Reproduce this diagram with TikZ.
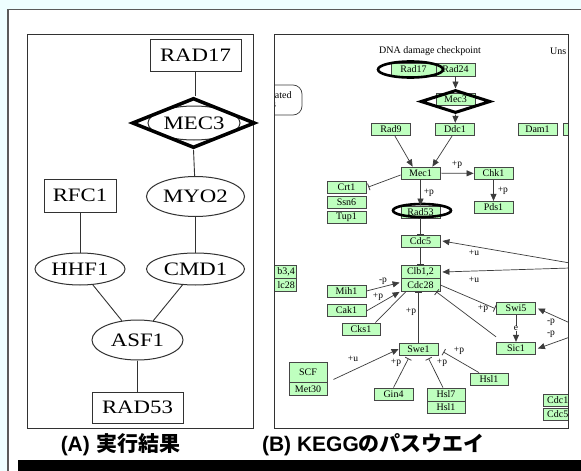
\documentclass[tikz,border=0pt]{standalone}
\usepackage{fontspec}
\usetikzlibrary{shapes.geometric,arrows.meta}
\newfontfamily\gfont[FakeStretch=1.2]{Liberation Serif}
\newfontfamily\kfont{Liberation Serif}
\newfontfamily\capfont{Liberation Sans}
\newfontfamily\jpfont{Noto Sans CJK JP}
\definecolor{bgcyan}{RGB}{238,254,255}
\definecolor{framegray}{RGB}{90,90,90}
\definecolor{agray}{RGB}{50,50,50}
\definecolor{kgreen}{RGB}{191,255,191}
\definecolor{kborder}{RGB}{70,70,70}
\definecolor{kline}{RGB}{60,60,60}
\begin{document}
\begin{tikzpicture}[x=1pt,y=-1pt,
  panel/.style={draw=agray,line width=1pt},
  gbox/.style={draw=agray,line width=1pt,fill=white,inner sep=0,font=\gfont\fontsize{19}{22}\selectfont},
  gell/.style={gbox,ellipse},
  aedge/.style={draw=agray,line width=0.9pt},
  kg/.style={draw=kborder,fill=kgreen,line width=0.8pt,inner sep=0,minimum width=39pt,minimum height=12.5pt,font=\kfont\fontsize{10}{11}\selectfont},
  kring/.style={ellipse,draw=black,line width=2.6pt,inner sep=0},
  ktext/.style={font=\kfont\fontsize{10}{11}\selectfont,inner sep=0},
  klab/.style={font=\kfont\fontsize{9.5}{10}\selectfont,inner sep=0},
  kedge/.style={draw=kline,line width=0.7pt},
  karrow/.style={kedge,-{Triangle[length=7pt,width=6pt]}},
  kinhib/.style={kedge,-{Bar[width=7pt,line width=0.8pt]}},
  caption/.style={inner sep=0,font=\fontsize{21}{24}\selectfont}
]
\useasboundingbox (0,0) rectangle (581,471);
\clip (0,0) rectangle (581,471);
% page background, white sheet and the black rule at the foot
\fill[bgcyan] (0,0) rectangle (581,471);
\filldraw[fill=white,draw=framegray,line width=1.2pt] (8,9.5) rectangle (600,490);
\fill[black] (18,460) rectangle (600,490);

% ---------------- panel (A): computed network ----------------
\draw[panel] (27,34) rectangle (253,428);
\node[gbox,minimum width=91pt,minimum height=32pt] (rad17A) at (195.5,55) {RAD17};
\node[gell,minimum width=92pt,minimum height=34pt] (mec3Aell) at (194,123) {MEC3};
\node[diamond,draw=black,line width=3.5pt,inner sep=0,minimum width=123pt,minimum height=50pt] (mec3A) at (193.5,123) {};
\node[gell,minimum width=98pt,minimum height=40pt] (myo2A) at (195.5,196.5) {MYO2};
\node[gbox,minimum width=72pt,minimum height=33pt] (rfc1A) at (80,195.5) {RFC1};
\node[gell,minimum width=90pt,minimum height=32pt] (hhf1A) at (80,269) {HHF1};
\node[gell,minimum width=98pt,minimum height=32pt] (cmd1A) at (195.5,269) {CMD1};
\node[gell,minimum width=91pt,minimum height=40pt] (asf1A) at (137.5,340) {ASF1};
\node[gbox,minimum width=91pt,minimum height=31pt] (rad53A) at (137.5,407.5) {RAD53};
\draw[aedge] (rad17A) -- (rad17A |- mec3A.north);
\draw[aedge] (mec3A.south) -- (myo2A);
\draw[aedge] (rfc1A) -- (hhf1A);
\draw[aedge] (myo2A) -- (cmd1A);
\draw[aedge] (hhf1A) -- (asf1A);
\draw[aedge] (cmd1A) -- (asf1A);
\draw[aedge] (asf1A) -- (rad53A);

% ---------------- panel (B): KEGG cell cycle excerpt ----------------
\begin{scope}
\clip (274,34) rectangle (568,428);
\node[ktext] (dnalab) at (430,51) {DNA damage checkpoint};
\node[ktext,anchor=west] (unslab) at (550,51) {Uns};
\draw[kedge,rounded corners=9pt] (230,85) rectangle (302,115);
\node[ktext,anchor=west] (iated1) at (272,95) {iated};
\node[ktext,anchor=west] (iated2) at (272,105) {s};

\node[kg,minimum width=45pt,minimum height=13pt] (rad17) at (413.5,69.5) {Rad17};
\node[kg,minimum height=13pt] (rad24) at (455.5,69.5) {Rad24};
\node[kg,minimum height=12pt] (mec3) at (455.5,99.5) {Mec3};
\node[kg] (rad9) at (391,129.5) {Rad9};
\node[kg] (ddc1) at (455,129.5) {Ddc1};
\node[kg] (dam1) at (537.5,129.5) {Dam1};
\node[kg] (rightbox) at (582.5,129.5) {};
\node[kg,minimum height=12pt] (mec1) at (420.5,173) {Mec1};
\node[kg] (chk1) at (493.5,173.5) {Chk1};
\node[kg] (pds1) at (493.5,207.5) {Pds1};
\node[kg,minimum height=12pt] (crt1) at (346.5,187) {Crt1};
\node[kg,minimum height=12pt] (ssn6) at (346.5,202) {Ssn6};
\node[kg] (tup1) at (346.5,217.5) {Tup1};
\node[kg,minimum height=12pt] (rad53) at (420.5,212) {Rad53};
\node[kg,minimum height=12pt] (cdc5) at (420.5,241) {Cdc5};
\node[kg,minimum height=13pt] (clb12) at (420.5,272) {Clb1,2};
\node[kg,minimum height=13pt] (cdc28) at (420.5,285) {Cdc28};
\node[kg,minimum height=13pt,anchor=east] (clb34) at (297,272) {};
\node[ktext,anchor=east] (clb34t) at (295,272) {b3,4};
\node[kg,minimum height=13pt,anchor=east] (cdc28l) at (297,285) {};
\node[ktext,anchor=east] (cdc28lt) at (295,285) {lc28};
\node[kg,minimum height=12pt] (mih1) at (346.5,291) {Mih1};
\node[kg,minimum height=12pt] (cak1) at (346.5,310) {Cak1};
\node[kg,minimum width=38pt,minimum height=12pt] (cks1) at (361,329) {Cks1};
\node[kg,minimum width=38pt,minimum height=20pt] (scf) at (308,372.5) {SCF};
\node[kg,minimum width=38pt,minimum height=13pt] (met30) at (308,389) {Met30};
\node[kg,minimum height=12pt] (swe1) at (418.5,349) {Swe1};
\node[kg] (swi5) at (516,308.5) {Swi5};
\node[kg] (sic1) at (516,348.5) {Sic1};
\node[kg,minimum height=12pt] (gin4) at (393.5,394) {Gin4};
\node[kg,minimum width=38pt,minimum height=13pt] (hsl7) at (446,394.5) {Hsl7};
\node[kg,minimum width=38pt,minimum height=12pt] (hsl1b) at (446,407.5) {Hsl1};
\node[kg,minimum width=38pt,minimum height=12pt] (hsl1) at (489,379) {Hsl1};
\node[kg,minimum height=12pt,anchor=west] (cdc1x) at (543,400) {};
\node[ktext,anchor=west] (cdc1xt) at (547,400) {Cdc1};
\node[kg,minimum height=12pt,anchor=west] (cdc5x) at (543,414) {};
\node[ktext,anchor=west] (cdc5xt) at (547,414) {Cdc5};

% highlighted genes
\node[kring,minimum width=65pt,minimum height=16pt] (rad17ring) at (410.5,69.5) {};
\node[kring,minimum width=58pt,minimum height=13pt] (rad53ring) at (422,210.5) {};
\node[diamond,draw=black,line width=3pt,inner sep=0,minimum width=70pt,minimum height=23pt] (mec3dia) at (455.5,101.5) {};

% off-map ends of the long connectors
\coordinate (e1) at (570,263);
\coordinate (e2) at (570,268);
\coordinate (e3) at (570,323);
\coordinate (e4) at (570,337);

% connectors
\draw[karrow] (rad24) -- (mec3dia.north);
\draw[karrow] (mec3dia.south) -- (ddc1);
\draw[karrow] ([xshift=4pt]rad9.south) -- ([xshift=12pt]mec1.north west);
\draw[karrow] ([xshift=-3pt]ddc1.south) -- ([xshift=-8pt]mec1.north east);
\draw[karrow] (mec1) -- (chk1) node[klab,midway,above=4pt] {+p};
\draw[karrow] (chk1) -- (pds1) node[klab,midway,right=4pt] {+p};
\draw[kinhib] ([yshift=-2pt]mec1.west) -- ([xshift=2pt]crt1.east);
\draw[karrow] (mec1) -- (rad53) node[klab,midway,right=3pt] {+p};
\draw[kinhib] (rad53) -- (cdc5);
\draw[kinhib] (cdc5) -- (clb12);
\draw[karrow] (e1) -- ([xshift=2pt]cdc5.east);
\node[klab] (u1) at (474,253) {+u};
\draw[karrow] (e2) -- ([xshift=2pt]clb12.east);
\node[klab] (u2) at (474,280) {+u};
\draw[karrow] (mih1.east) -- ([xshift=-1pt,yshift=-4.5pt]cdc28.north west);
\node[klab] (mp1) at (383,281) {-p};
\draw[karrow] ([yshift=-1pt]cak1.east) -- ([xshift=-1pt]cdc28.south west);
\node[klab] (pp1) at (378,297) {+p};
\draw[kedge] ([xshift=-5pt]cks1.north east) -- ([xshift=5pt]cdc28.south west);
\draw[kinhib] (swe1.north) -- (swe1.north |- cdc28.south);
\node[klab] (pp2) at (411,312) {+p};
\draw[kinhib] ([yshift=5pt]sic1.north west) -- ([xshift=-4pt]cdc28.south east);
\draw[kinhib] (cdc28.east) -- ([xshift=-1pt]swi5.west);
\node[klab] (pp3) at (483,309) {+p};
\draw[karrow] (swi5) -- (sic1) node[klab,midway,fill=white,inner sep=0.6pt] {e};
\draw[karrow] (e3) -- ([xshift=2pt]swi5.east);
\node[klab] (mp2) at (551,322) {-p};
\draw[karrow] (e4) -- ([xshift=2pt]sic1.east);
\node[klab] (mp3) at (551,334) {-p};
\draw[karrow] ([xshift=6pt,yshift=-7pt]scf.east) -- (swe1.west);
\node[klab] (up3) at (353,359) {+u};
\draw[kinhib] (gin4.north) -- ([xshift=-10pt,yshift=-3pt]swe1.south);
\node[klab] (pp4) at (396,363) {+p};
\draw[kinhib] ([xshift=-3pt]hsl7.north) -- ([xshift=10pt,yshift=-3pt]swe1.south);
\node[klab] (pp5) at (442,363) {+p};
\draw[kinhib] ([xshift=-10pt]hsl1.north) -- ([xshift=5pt,yshift=-3pt]swe1.east);
\node[klab] (pp6) at (459,351) {+p};
\end{scope}
\draw[panel] (274,34) rectangle (568,428);

% captions
\node[caption] (capA) at (120.5,445) {{\capfont\bfseries (A)} {\jpfont\bfseries 実行結果}};
\node[caption] (capB) at (373.5,445) {{\capfont\bfseries (B) KEGG}{\jpfont\bfseries のパスウエイ}};
\end{tikzpicture}
\end{document}
